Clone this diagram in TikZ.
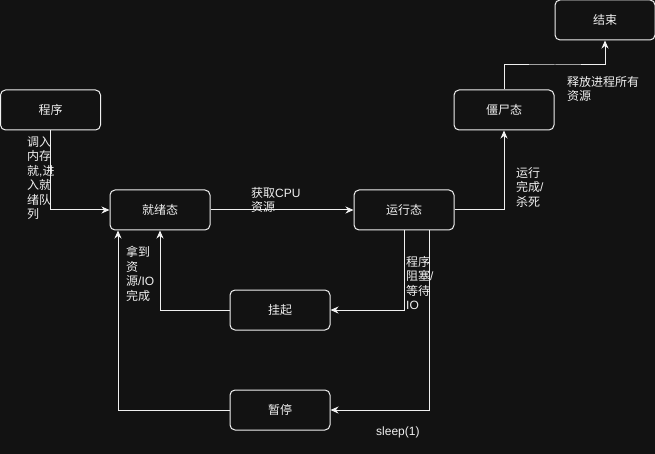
\documentclass[tikz,border=0pt]{standalone}
\usepackage{fontspec}
\setmainfont{Liberation Sans}
\newfontfamily\cjk{Noto Sans CJK SC}
\usetikzlibrary{arrows.meta}
\definecolor{bgc}{HTML}{121212}
\definecolor{fgc}{HTML}{F0F0F0}
\tikzset{
  state/.style={draw=fgc,line width=1pt,rounded corners=5pt,minimum width=100pt,minimum height=40pt,inner sep=0pt,text=fgc,font=\cjk\fontsize{12}{14}\selectfont},
  conn/.style={draw=fgc,line width=1pt,-{Stealth[length=8pt,width=7pt,inset=2.5pt]}},
  lbl/.style={text=fgc,align=left,anchor=north west,inner sep=0pt,font=\fontsize{12}{14.5}\selectfont}
}
\begin{document}
\begin{tikzpicture}[x=1pt,y=-1pt]
\fill[bgc] (0,0) rectangle (655,454);
\useasboundingbox (0,0) rectangle (655,454);
\node[state] (prog) at (50.5,110) {程序};
\node[state] (ready) at (160,210) {就绪态};
\node[state] (run) at (404,210) {运行态};
\node[state] (zomb) at (504,110) {僵尸态};
\node[state] (end) at (605,20) {结束};
\node[state] (susp) at (280,310) {挂起};
\node[state] (pause) at (280,410) {暂停};
\draw[conn] (prog.south) |- (ready.west);
\draw[conn] (ready.east) -- (run.west);
\draw[conn] (run.east) -| (zomb.south);
\draw[conn] (zomb.north) |- (555,65) -| (end.south);
\draw[conn] (run.south) |- (susp.east);
\draw[conn] ([xshift=25.5pt]run.south) |- (pause.east);
\draw[conn] (susp.west) -| (ready.south);
\draw[conn] (pause.west) -| ([xshift=-42pt]ready.south);
\node[lbl] (l1) at (27,136) {{\cjk 调入}\\{\cjk 内存}\\{\cjk 就},{\cjk 进}\\{\cjk 入就}\\{\cjk 绪队}\\{\cjk 列}};
\node[lbl] (l2) at (251,187) {{\cjk 获取}CPU\\{\cjk 资源}};
\node[lbl] (l3) at (516,167) {{\cjk 运行}\\{\cjk 完成}/\\{\cjk 杀死}};
\node[lbl] (l4) at (567,76) {{\cjk 释放进程所有}\\{\cjk 资源}};
\node[lbl] (l5) at (406,256) {{\cjk 程序}\\{\cjk 阻塞}/\\{\cjk 等待}\\IO};
\node[lbl] (l6) at (126,246) {{\cjk 拿到}\\{\cjk 资}\\{\cjk 源}/IO\\{\cjk 完成}};
\node[lbl] (l7) at (376,427) {sleep(1)};
\end{tikzpicture}
\end{document}
